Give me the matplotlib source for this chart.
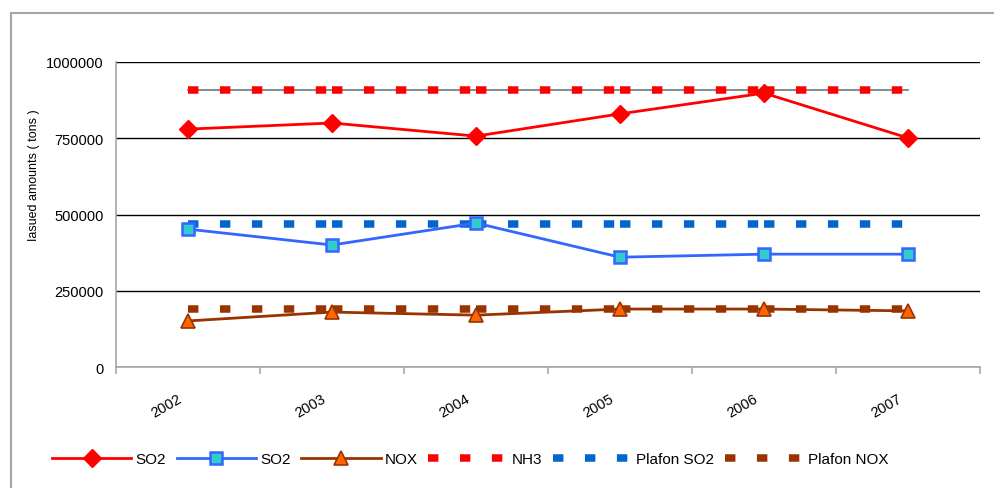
import matplotlib
matplotlib.use("Agg")
import matplotlib.pyplot as plt
from matplotlib.lines import Line2D
from matplotlib.patches import Rectangle
from matplotlib.transforms import ScaledTranslation

plt.rcParams['font.family'] = ['Liberation Sans', 'DejaVu Sans']
plt.rcParams['lines.scale_dashes'] = False

years = ['2002', '2003', '2004', '2005', '2006', '2007']
so2_red = [780000, 800000, 757000, 830000, 898000, 751000]
so2_blue = [452000, 400000, 472000, 360000, 370000, 370000]
nox = [151000, 180000, 170000, 190000, 190000, 184000]
nh3 = [908000] * 6
plafon_so2 = [469000] * 6
plafon_nox = [190000] * 6
yticks = [0, 250000, 500000, 750000, 1000000]

fig = plt.figure(figsize=(9.94, 4.89), dpi=100)
fig.patches.append(Rectangle((11 / 994, -0.1), 1.2, 1 - 14 / 489 + 0.1, transform=fig.transFigure,
                             fill=False, edgecolor='#A6A6A6', linewidth=1.5))
ax = fig.add_axes([116 / 994, 1 - 368 / 489, 864 / 994, 305 / 489])

x = list(range(len(years)))
dash = (7.5, 15.5)
dlw = 5.4

def dashed_series(vals, color, gray=False):
    if gray:
        ax.plot(x, vals, color='#808080', lw=1.3, zorder=2)
    for i in range(len(x) - 1):
        ax.plot([x[i], x[i + 1]], [vals[i], vals[i + 1]], color=color, lw=dlw,
                dashes=dash, solid_capstyle='butt', dash_capstyle='butt', zorder=3)

dashed_series(nh3, '#FF0000', gray=True)
dashed_series(plafon_so2, '#0066CC')
dashed_series(plafon_nox, '#993300')

ax.plot(x, so2_red, color='#FF0000', lw=2, marker='D', ms=9, mfc='#FF0000', mec='#FF0000', zorder=5)
ax.plot(x, so2_blue, color='#3366FF', lw=2, marker='s', ms=8.5, mfc='#33CCCC', mec='#3366FF', mew=1.8, zorder=5)
ax.plot(x, nox, color='#993300', lw=2, marker='^', ms=10, mfc='#FF6600', mec='#993300', mew=1.2, zorder=5)

ax.set_xlim(-0.5, 5.5)
ax.set_ylim(0, 1000000)
ax.set_yticks(yticks)
ax.set_yticklabels([str(v) for v in yticks], fontsize=10.5)
ax.tick_params(axis='y', length=0, pad=9)
ax.yaxis.grid(True, color='black', lw=1)
ax.set_axisbelow(True)

ax.set_xticks(x)
ax.set_xticklabels(years, rotation=30, ha='right', va='top', fontsize=10.5)
ax.tick_params(axis='x', length=0, pad=17)
off = ScaledTranslation(-4 / 100, 0, fig.dpi_scale_trans)
for lab in ax.get_xticklabels():
    lab.set_transform(lab.get_transform() + off)
ax.set_xticks([i - 0.5 for i in range(len(years) + 1)], minor=True)
ax.tick_params(axis='x', which='minor', length=5, color='#A6A6A6', width=1.2)

for s in ['top', 'right']:
    ax.spines[s].set_visible(False)
for s in ['left', 'bottom']:
    ax.spines[s].set_color('#A6A6A6')
    ax.spines[s].set_linewidth(1.2)

ax.set_ylabel('Iasued amounts ( tons )', fontsize=9)
ax.yaxis.set_label_coords(-0.088, 0.633)

handles = [
    Line2D([], [], color='#FF0000', lw=2, marker='D', ms=9, mfc='#FF0000', mec='#FF0000'),
    Line2D([], [], color='#3366FF', lw=2, marker='s', ms=8.5, mfc='#33CCCC', mec='#3366FF', mew=1.8),
    Line2D([], [], color='#993300', lw=2, marker='^', ms=10, mfc='#FF6600', mec='#993300', mew=1.2),
    Line2D([], [], color='#FF0000', lw=dlw, dashes=dash, dash_capstyle='butt'),
    Line2D([], [], color='#0066CC', lw=dlw, dashes=dash, dash_capstyle='butt'),
    Line2D([], [], color='#993300', lw=dlw, dashes=dash, dash_capstyle='butt'),
]
labels = ['SO2', 'SO2', 'NOX', 'NH3', 'Plafon SO2', 'Plafon NOX']
fig.legend(handles, labels, loc='center left', bbox_to_anchor=(52 / 994, 1 - 460 / 489),
           ncol=6, frameon=False, fontsize=11, handlelength=5.2, handletextpad=0.26,
           columnspacing=0.7, borderpad=0, borderaxespad=0)

fig.savefig('out.png', dpi=100)
